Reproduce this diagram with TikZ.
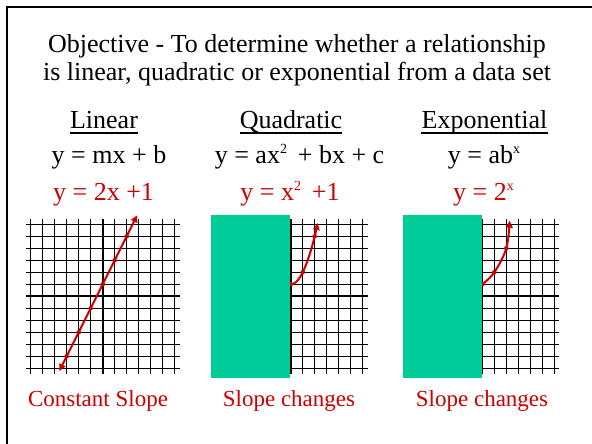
\documentclass[tikz,border=0pt]{standalone}
\usepackage{fontspec}
\setmainfont{Liberation Serif}
\usetikzlibrary{arrows.meta}
\definecolor{slred}{RGB}{204,0,0}
\definecolor{slgreen}{RGB}{0,204,153}
\newcommand{\mysup}[1]{\raisebox{10.5pt}{\fontsize{14}{14}\selectfont #1}}
\begin{document}
\begin{tikzpicture}[x=1pt,y=-1pt,
  txt/.style={font=\fontsize{26}{26}\selectfont, anchor=base, inner sep=0pt},
  redtxt/.style={txt, text=slred},
  lbl/.style={font=\fontsize{23}{23}\selectfont, anchor=base, inner sep=0pt, text=slred},
  gridline/.style={line width=1pt, black},
  axisline/.style={line width=1.8pt, black},
  curve/.style={line width=2pt, slred},
  tip/.style={-{Triangle[length=7pt,width=6.5pt]}},
  dot/.style={fill=slred},
  shade/.style={fill=slgreen}]
\useasboundingbox (0,0) rectangle (592,444);
\fill[white] (0,0) rectangle (592,444);
% frame
\draw[line width=2pt] (592,7) -- (7,7) -- (7,444);
% title
\node[txt] (t1) at (297,53) {Objective - To determine whether a relationship};
\node[txt] (t2) at (297,81) {is linear, quadratic or exponential from a data set};
% headers
\node[txt] (h1) at (104,128.5) {Linear};
\node[txt] (h2) at (291,128.5) {Quadratic};
\node[txt] (h3) at (484.5,128.5) {Exponential};
\foreach \h in {h1,h2,h3}
  \draw[line width=1.6pt] ([yshift=-4.5pt]\h.base west) -- ([yshift=-4.5pt]\h.base east);
% general equations
\node[txt] (e1) at (109,163.5) {y = mx + b};
\node[txt] (e2) at (299.5,163.5) {y = ax\mysup{2}\, + bx + c};
\node[txt] (e3) at (484,163.5) {y = ab\mysup{x}};
% specific equations
\node[redtxt] (r1) at (103.5,200.5) {y = 2x +1};
\node[redtxt] (r2) at (290,200.5) {y = x\mysup{2}\, +1};
\node[redtxt] (r3) at (483.5,200.5) {y = 2\mysup{x}};
% linear graph
\begin{scope}[shift={(102.7,296.3)}, x=12pt, y=12pt]
  \foreach \k in {-6,...,6} {
    \draw[gridline] (\k,-6.45) -- (\k,6.45);
    \draw[gridline] (-6.4,\k) -- (6.4,\k);
  }
  \draw[axisline] (0,-6.45) -- (0,6.45);
  \draw[axisline] (-6.4,0) -- (6.4,0);
  \draw[curve, {Triangle[length=7pt,width=6.5pt]}-{Triangle[length=7pt,width=6.5pt]}] (-3.62,-6.24) -- (2.88,6.76);
  \foreach \x in {-3,...,2} \fill[dot] (\x,{2*\x+1}) circle (2.3pt);
\end{scope}
% quadratic graph
\begin{scope}[shift={(290.7,296.3)}, x=12pt, y=12pt]
  \foreach \k in {-6,...,6} {
    \draw[gridline] (\k,-6.45) -- (\k,6.45);
    \draw[gridline] (-6.4,\k) -- (6.4,\k);
  }
  \draw[axisline] (0,-6.45) -- (0,6.45);
  \draw[axisline] (-6.4,0) -- (6.4,0);
  \draw[curve, tip] plot[domain=0:2.26, samples=40] (\x,{\x*\x+1});
  \foreach \x in {0,1,2} \fill[dot] (\x,{\x*\x+1}) circle (2.3pt);
\end{scope}
\fill[shade] (211,215) rectangle (290,378.3);
% exponential graph
\begin{scope}[shift={(482.3,296.3)}, x=12pt, y=12pt]
  \foreach \k in {-6,...,6} {
    \draw[gridline] (\k,-6.45) -- (\k,6.45);
    \draw[gridline] (-6.4,\k) -- (6.4,\k);
  }
  \draw[axisline] (0,-6.45) -- (0,6.45);
  \draw[axisline] (-6.4,0) -- (6.4,0);
  \draw[curve, tip] plot[smooth, tension=0.6] coordinates {(0,1) (1,2) (2,4) (2.28,6.3)};
  \foreach \p in {(0,1),(1,2),(2,4)} \fill[dot] \p circle (2.3pt);
\end{scope}
\fill[shade] (403,215) rectangle (482,378.3);
% bottom labels
\node[lbl] (b1) at (98,406) {Constant Slope};
\node[lbl] (b2) at (289,406) {Slope changes};
\node[lbl] (b3) at (482,406) {Slope changes};
\end{tikzpicture}
\end{document}
